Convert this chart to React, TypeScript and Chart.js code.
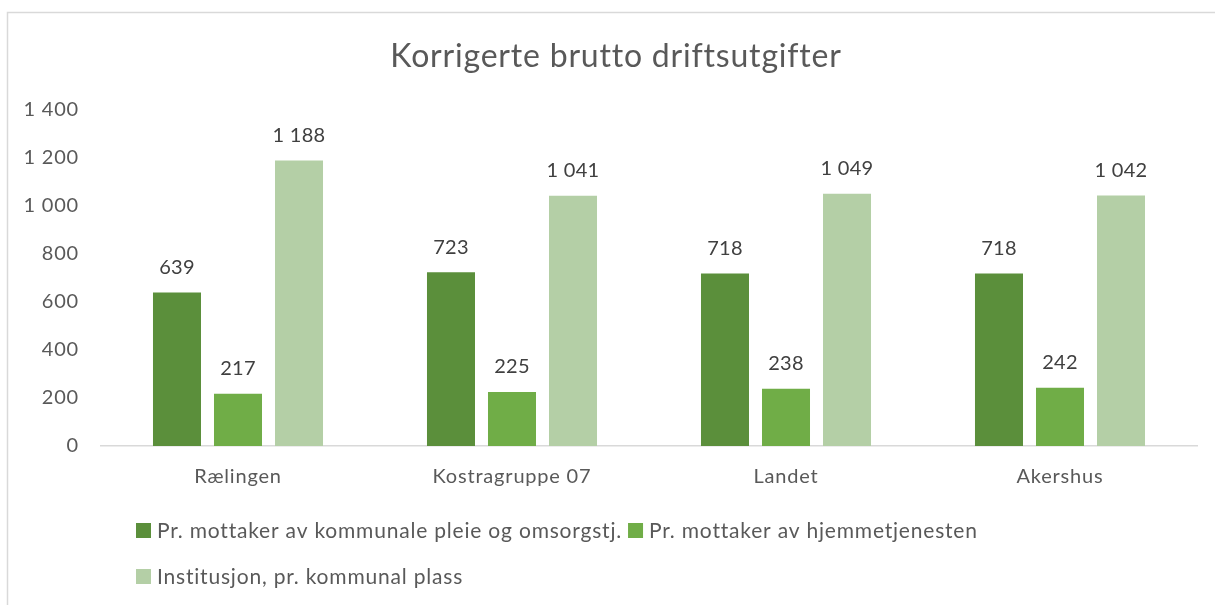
import React, { useEffect, useRef } from "react";
import { Chart, registerables } from "chart.js";

Chart.register(...registerables);

const categories = ["Rælingen", "Kostragruppe 07", "Landet", "Akershus"];
const seriesNames = [
  "Pr. mottaker av kommunale pleie og omsorgstj.",
  "Pr. mottaker av hjemmetjenesten",
  "Institusjon, pr. kommunal plass",
];
const pleieOmsorg = [639, 723, 718, 718];
const hjemmetjenesten = [217, 225, 238, 242];
const institusjon = [1188, 1041, 1049, 1042];
const seriesColors = ["#5b8f3b", "#70ad47", "#b4cfa6"];
const yTicks = [0, 200, 400, 600, 800, 1000, 1200, 1400];
const titleText = "Korrigerte brutto driftsutgifter";

const FONT = "Lato, 'Open Sans', sans-serif";

const fmt = (v: number) => {
  const s = Math.round(v).toString();
  return s.replace(/\B(?=(\d{3})+(?!\d))/g, " ");
};

const framePlugin = {
  id: "frame",
  beforeDraw(chart: any) {
    const ctx = chart.ctx;
    ctx.save();
    ctx.fillStyle = "#ffffff";
    ctx.fillRect(0, 0, chart.width, chart.height);
    ctx.strokeStyle = "#d9d9d9";
    ctx.lineWidth = 1.5;
    ctx.strokeRect(7.5, 12.5, chart.width + 20, chart.height + 20);
    ctx.restore();
    ctx.letterSpacing = "0.8px";
  },
};

const titlePlugin = {
  id: "customTitle",
  afterDraw(chart: any) {
    const ctx = chart.ctx;
    ctx.save();
    ctx.letterSpacing = "0.8px";
    ctx.font = `32px ${FONT}`;
    ctx.fillStyle = "#595959";
    ctx.textAlign = "center";
    ctx.textBaseline = "middle";
    ctx.fillText(titleText, 616, 57);
    ctx.restore();
  },
};

const labelsPlugin = {
  id: "valueLabels",
  afterDatasetsDraw(chart: any) {
    const ctx = chart.ctx;
    ctx.save();
    ctx.letterSpacing = "0.3px";
    ctx.font = `20px ${FONT}`;
    ctx.fillStyle = "#404040";
    ctx.textAlign = "center";
    ctx.textBaseline = "middle";
    chart.data.datasets.forEach((ds: any, i: number) => {
      const meta = chart.getDatasetMeta(i);
      meta.data.forEach((bar: any, j: number) => {
        ctx.fillText(fmt(ds.data[j]), bar.x, bar.y - 25);
      });
    });
    ctx.restore();
  },
};

const legendPlugin = {
  id: "customLegend",
  afterDraw(chart: any) {
    const ctx = chart.ctx;
    ctx.save();
    ctx.letterSpacing = "0.8px";
    ctx.font = `21px ${FONT}`;
    ctx.textBaseline = "middle";
    ctx.textAlign = "left";
    const startX = 136;
    const maxX = 1190;
    const box = 15;
    const gap = 6;
    let x = startX;
    let y = 530;
    const rowH = 46;
    chart.data.datasets.forEach((ds: any) => {
      const w = box + gap + ctx.measureText(ds.label).width;
      if (x + w > maxX && x > startX) {
        x = startX;
        y += rowH;
      }
      ctx.fillStyle = ds.backgroundColor;
      ctx.fillRect(x, y - 7, box, box);
      ctx.fillStyle = "#595959";
      ctx.fillText(ds.label, x + box + gap, y + 1);
      x += w + 6;
    });
    ctx.restore();
  },
};

export default function App() {
  const ref = useRef<HTMLCanvasElement | null>(null);
  useEffect(() => {
    if (!ref.current) return;
    const chart = new Chart(ref.current, {
      type: "bar",
      data: {
        labels: categories,
        datasets: [
          { label: seriesNames[0], data: pleieOmsorg, backgroundColor: seriesColors[0] },
          { label: seriesNames[1], data: hjemmetjenesten, backgroundColor: seriesColors[1] },
          { label: seriesNames[2], data: institusjon, backgroundColor: seriesColors[2] },
        ],
      },
      options: {
        animation: false,
        responsive: false,
        maintainAspectRatio: false,
        layout: { padding: { top: 109.5, left: 7, right: 18, bottom: 0 } },
        datasets: {
          bar: { categoryPercentage: 0.668, barPercentage: 0.787 },
        },
        plugins: {
          legend: { display: false },
          tooltip: { enabled: false },
          title: { display: false },
        },
        scales: {
          x: {
            grid: { display: false, drawTicks: false },
            border: { display: true, color: "#d9d9d9", width: 1.5 },
            ticks: { color: "#595959", font: { family: FONT, size: 20 }, padding: 19 },
            afterFit: (s: any) => {
              s.height = 159;
            },
          },
          y: {
            min: 0,
            max: 1400,
            grid: { display: false, drawTicks: false },
            border: { display: false },
            afterBuildTicks: (s: any) => {
              s.ticks = yTicks.map((v) => ({ value: v }));
            },
            ticks: {
              color: "#595959",
              font: { family: FONT, size: 20 },
              padding: 22,
              callback: (v: any) => fmt(Number(v)),
            },
            afterFit: (s: any) => {
              s.width = 94;
            },
          },
        },
      },
      plugins: [framePlugin, labelsPlugin, legendPlugin, titlePlugin],
    });
    return () => chart.destroy();
  }, []);
  return (
    <div style={{ position: "fixed", left: 0, top: 0, width: 1215, height: 605 }}>
      <canvas ref={ref} width={1215} height={605} style={{ width: 1215, height: 605 }} />
    </div>
  );
}
